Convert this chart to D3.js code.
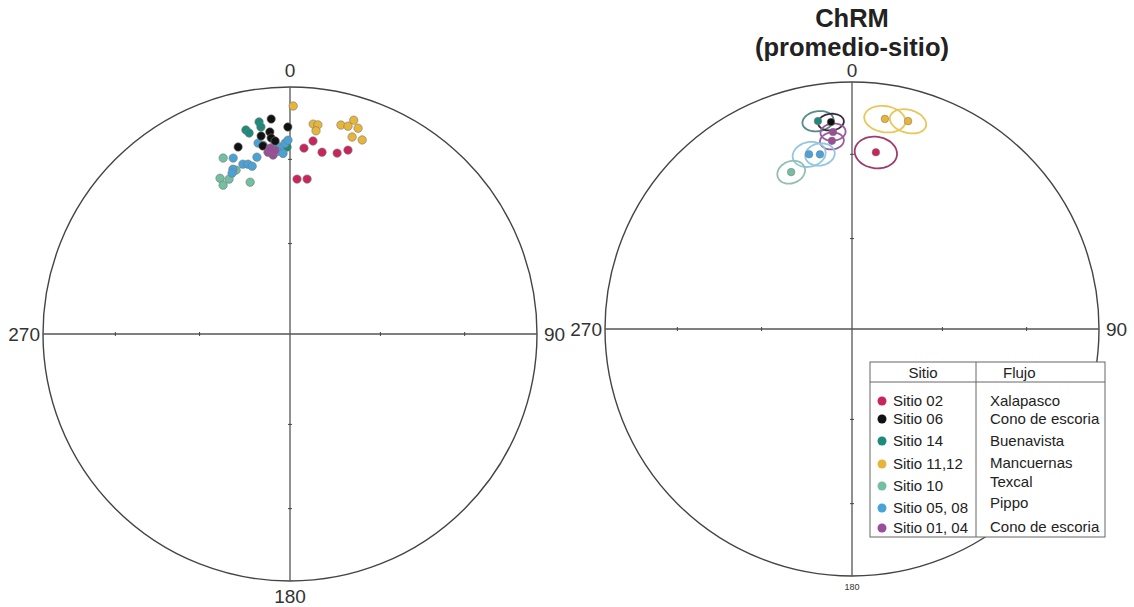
<!DOCTYPE html>
<html>
<head>
<meta charset="utf-8">
<script src="https://cdn.jsdelivr.net/npm/d3@7"></script>
<style>
  body { margin: 0; background: #fff; }
  svg { display: block; font-family: "Liberation Sans", Arial, sans-serif; }
  .dirlabel { font-size: 19px; fill: #333; }
  .title { font-size: 25.5px; font-weight: bold; fill: #222; }
  .legtxt { font-size: 15px; fill: #222; }
</style>
</head>
<body>
<svg id="chart" width="1134" height="607"></svg>
<script>
// site names and flows (legend)
var sites  = ["Sitio 02", "Sitio 06", "Sitio 14", "Sitio 11,12", "Sitio 10", "Sitio 05, 08", "Sitio 01, 04"];
var flujos = ["Xalapasco", "Cono de escoria", "Buenavista", "Mancuernas", "Texcal", "Pippo", "Cono de escoria"];

// specimen directions [declination, inclination]
var dirSitio02 = [[6.8,22.4],[4.3,25.5],[10.0,26.2],[14.6,25.3],[17.5,23.0],[2.6,37.3],[6.3,37.0]];
var dirSitio06 = [[355,13.7],[359.4,17.3],[351.7,20.1],[354.3,18.9],[354.5,21.4],[351.8,24.1],[344.5,22.5],[355.6,22.7]];
var dirSitio14 = [[351.7,14.3],[352.0,16.5],[347.8,16.6],[348.5,18.1],[359.1,25.3]];
var dirSitio1112 = [[0.8,8.5],[6.3,15.6],[7.6,15.7],[7.3,18.2],[13.7,14.0],[15.6,13.7],[16.6,10.6],[18.3,13.3],[17.5,17.5],[20.4,17.3]];
var dirSitio10 = [[339.2,24.8],[335.8,31.5],[335.8,34.3],[338.5,33.1],[345.3,36.6],[341.8,30.8]];
var dirSitio0508 = [[342.1,26.1],[340.9,30.1],[340.2,31.4],[344.5,29.4],[346.1,29.9],[347.3,31.0],[349.4,28.0],[350.5,22.7],
                    [351.9,23.8],[355.5,23.5],[356.9,25.2],[356.2,26.8],[358.5,23.8],[357.8,27.7],[359.4,22.6]];
var dirSitio0104 = [[353.1,26.8],[354.6,28.1],[355.3,26.3],[353.9,25.3]];

// site means (right net): site index, declination, inclination, alpha95
var meanSite = [2, 1, 6, 6, 5, 5, 4, 3, 3, 0];
var meanDec  = [350.7, 354.2, 354.5, 353.9, 346.2, 349.6, 338.8, 8.9, 15.1, 7.7];
var meanInc  = [15.8, 16.9, 21.0, 24.4, 28.0, 28.9, 32.4, 15.0, 13.9, 28.6];
var meanA95  = [4.1, 3.4, 3.4, 3.3, 4.7, 4.2, 4.1, 5.4, 4.8, 6.0];

var fillColor = d3.scaleOrdinal().domain(d3.range(7))
  .range(["#c9255c", "#111111", "#1d8a7a", "#e6b53a", "#72bfa2", "#4aa3d8", "#9a4d98"]);
var ringColor = d3.scaleOrdinal().domain(d3.range(7))
  .range(["#9e3c6c", "#3a2b40", "#568c88", "#e8c85a", "#94bfb0", "#93c6e0", "#9a5c9c"]);

var svg = d3.select("#chart");
var R = 247;
var rad = Math.PI / 180;

// equal-area projection, returns unit-disc coordinates
function proj(dec, inc) {
  var r = Math.SQRT2 * Math.sin((90 - inc) * rad / 2);
  return [r * Math.sin(dec * rad), r * Math.cos(dec * rad)];
}

function net(cx, cy, opts) {
  var g = svg.append("g");
  var x = d3.scaleLinear().domain([-1, 1]).range([cx - R, cx + R]);
  var y = d3.scaleLinear().domain([-1, 1]).range([cy + R, cy - R]);

  g.append("circle")
    .attr("cx", x(0)).attr("cy", y(0)).attr("r", x(1) - x(0))
    .attr("fill", "none").attr("stroke", "#444").attr("stroke-width", 1.4);
  g.append("line").attr("x1", x(-1)).attr("x2", x(1)).attr("y1", y(0)).attr("y2", y(0))
    .attr("stroke", "#555").attr("stroke-width", 1.3);
  g.append("line").attr("x1", x(0)).attr("x2", x(0)).attr("y1", y(1)).attr("y2", y(-1))
    .attr("stroke", "#555").attr("stroke-width", 1.3);

  // ticks at inclination 30 and 60 on each axis
  var tickR = [30, 60].map(function(i) { return Math.SQRT2 * Math.sin((90 - i) * rad / 2); });
  tickR.forEach(function(t) {
    [-t, t].forEach(function(v) {
      g.append("line").attr("x1", x(v)).attr("x2", x(v)).attr("y1", y(0) - 2).attr("y2", y(0) + 2)
        .attr("stroke", "#444").attr("stroke-width", 1);
      g.append("line").attr("y1", y(v)).attr("y2", y(v)).attr("x1", x(0) - 2).attr("x2", x(0) + 2)
        .attr("stroke", "#444").attr("stroke-width", 1);
    });
  });

  g.append("text").attr("class", "dirlabel").attr("x", x(0)).attr("y", 77)
    .attr("text-anchor", "middle").text("0");
  g.append("text").attr("class", "dirlabel").attr("x", x(1) + 7).attr("y", opts.sideY)
    .text("90");
  g.append("text").attr("class", "dirlabel").attr("x", x(-1) - 3).attr("y", opts.sideY)
    .attr("text-anchor", "end").text("270");
  g.append("text").attr("class", "dirlabel").attr("x", x(0)).attr("y", opts.southY)
    .attr("text-anchor", "middle").style("font-size", opts.southSize).text("180");
  return {g: g, x: x, y: y};
}

// ---- left net: specimen directions
var left = net(290, 334, {sideY: 341, southY: 603, southSize: "19px"});
var specimen = [[4, dirSitio10], [2, dirSitio14], [5, dirSitio0508], [1, dirSitio06],
                [6, dirSitio0104], [0, dirSitio02], [3, dirSitio1112]];
specimen.forEach(function(s) {
  left.g.selectAll(null)
    .data(s[1])
    .enter()
    .append("circle")
    .attr("cx", function(d) { return left.x(proj(d[0], d[1])[0]); })
    .attr("cy", function(d) { return left.y(proj(d[0], d[1])[1]); })
    .attr("r", 4.2)
    .attr("fill", fillColor(s[0]))
    .attr("stroke", "#777")
    .attr("stroke-width", 0.6);
});

// ---- right net: site means with alpha95 circles
var right = net(852, 329, {sideY: 336, southY: 590, southSize: "9px"});

svg.append("text").attr("class", "title").attr("x", 852).attr("y", 27)
  .attr("text-anchor", "middle").text("ChRM");
svg.append("text").attr("class", "title").attr("x", 852).attr("y", 56)
  .attr("text-anchor", "middle").text("(promedio-sitio)");

function coneRing(dec, inc, a95) {
  var m = [Math.cos(inc * rad) * Math.cos(dec * rad), Math.cos(inc * rad) * Math.sin(dec * rad), Math.sin(inc * rad)];
  var u = [-Math.sin(inc * rad) * Math.cos(dec * rad), -Math.sin(inc * rad) * Math.sin(dec * rad), Math.cos(inc * rad)];
  var v = [-Math.sin(dec * rad), Math.cos(dec * rad), 0];
  var ca = Math.cos(a95 * rad), sa = Math.sin(a95 * rad);
  return d3.range(0, 360, 6).map(function(t) {
    var ct = Math.cos(t * rad), st = Math.sin(t * rad);
    var p = [0, 1, 2].map(function(k) { return ca * m[k] + sa * (ct * u[k] + st * v[k]); });
    var pd = Math.atan2(p[1], p[0]) / rad;
    var pi = Math.asin(Math.max(-1, Math.min(1, p[2]))) / rad;
    return proj(pd, pi);
  });
}

var ringLine = d3.line()
  .x(function(d) { return right.x(d[0]); })
  .y(function(d) { return right.y(d[1]); })
  .curve(d3.curveCardinalClosed);

var means = meanSite.map(function(s, i) {
  return {site: s, dec: meanDec[i], inc: meanInc[i], a95: meanA95[i]};
});

right.g.selectAll("path.ring")
  .data(means)
  .enter()
  .append("path")
  .attr("class", "ring")
  .attr("d", function(d) { return ringLine(coneRing(d.dec, d.inc, d.a95)); })
  .attr("fill", "none")
  .attr("stroke", function(d) { return ringColor(d.site); })
  .attr("stroke-width", 1.8);

right.g.selectAll("circle.mean")
  .data(means)
  .enter()
  .append("circle")
  .attr("class", "mean")
  .attr("cx", function(d) { return right.x(proj(d.dec, d.inc)[0]); })
  .attr("cy", function(d) { return right.y(proj(d.dec, d.inc)[1]); })
  .attr("r", 3.8)
  .attr("fill", function(d) { return fillColor(d.site); })
  .attr("stroke", "#777")
  .attr("stroke-width", 0.5);

// ---- legend table
var leg = svg.append("g");
leg.append("rect").attr("x", 870).attr("y", 362).attr("width", 235).attr("height", 175)
  .attr("fill", "#fff").attr("stroke", "#666").attr("stroke-width", 1);
leg.append("line").attr("x1", 870).attr("x2", 1105).attr("y1", 382).attr("y2", 382)
  .attr("stroke", "#666").attr("stroke-width", 1);
leg.append("line").attr("x1", 976).attr("x2", 976).attr("y1", 362).attr("y2", 537)
  .attr("stroke", "#666").attr("stroke-width", 1);
leg.append("text").attr("class", "legtxt").attr("x", 923).attr("y", 378)
  .attr("text-anchor", "middle").text("Sitio");
leg.append("text").attr("class", "legtxt").attr("x", 1003).attr("y", 378).text("Flujo");

var sitioY = [406, 424, 446, 469, 491, 513, 533];
var flujoY = [406, 424, 446, 468, 487, 508, 532];

var item = leg.selectAll("g.legenditem")
  .data(sites)
  .enter()
  .append("g")
  .attr("class", "legenditem");
item.append("circle")
  .attr("cx", 882)
  .attr("cy", function(d, i) { return sitioY[i] - 5; })
  .attr("r", 4.5)
  .attr("fill", function(d, i) { return fillColor(i); });
item.append("text")
  .attr("class", "legtxt")
  .attr("x", 893)
  .attr("y", function(d, i) { return sitioY[i]; })
  .text(function(d) { return d; });
item.append("text")
  .attr("class", "legtxt")
  .attr("x", 990)
  .attr("y", function(d, i) { return flujoY[i]; })
  .text(function(d, i) { return flujos[i]; });
</script>
</body>
</html>
